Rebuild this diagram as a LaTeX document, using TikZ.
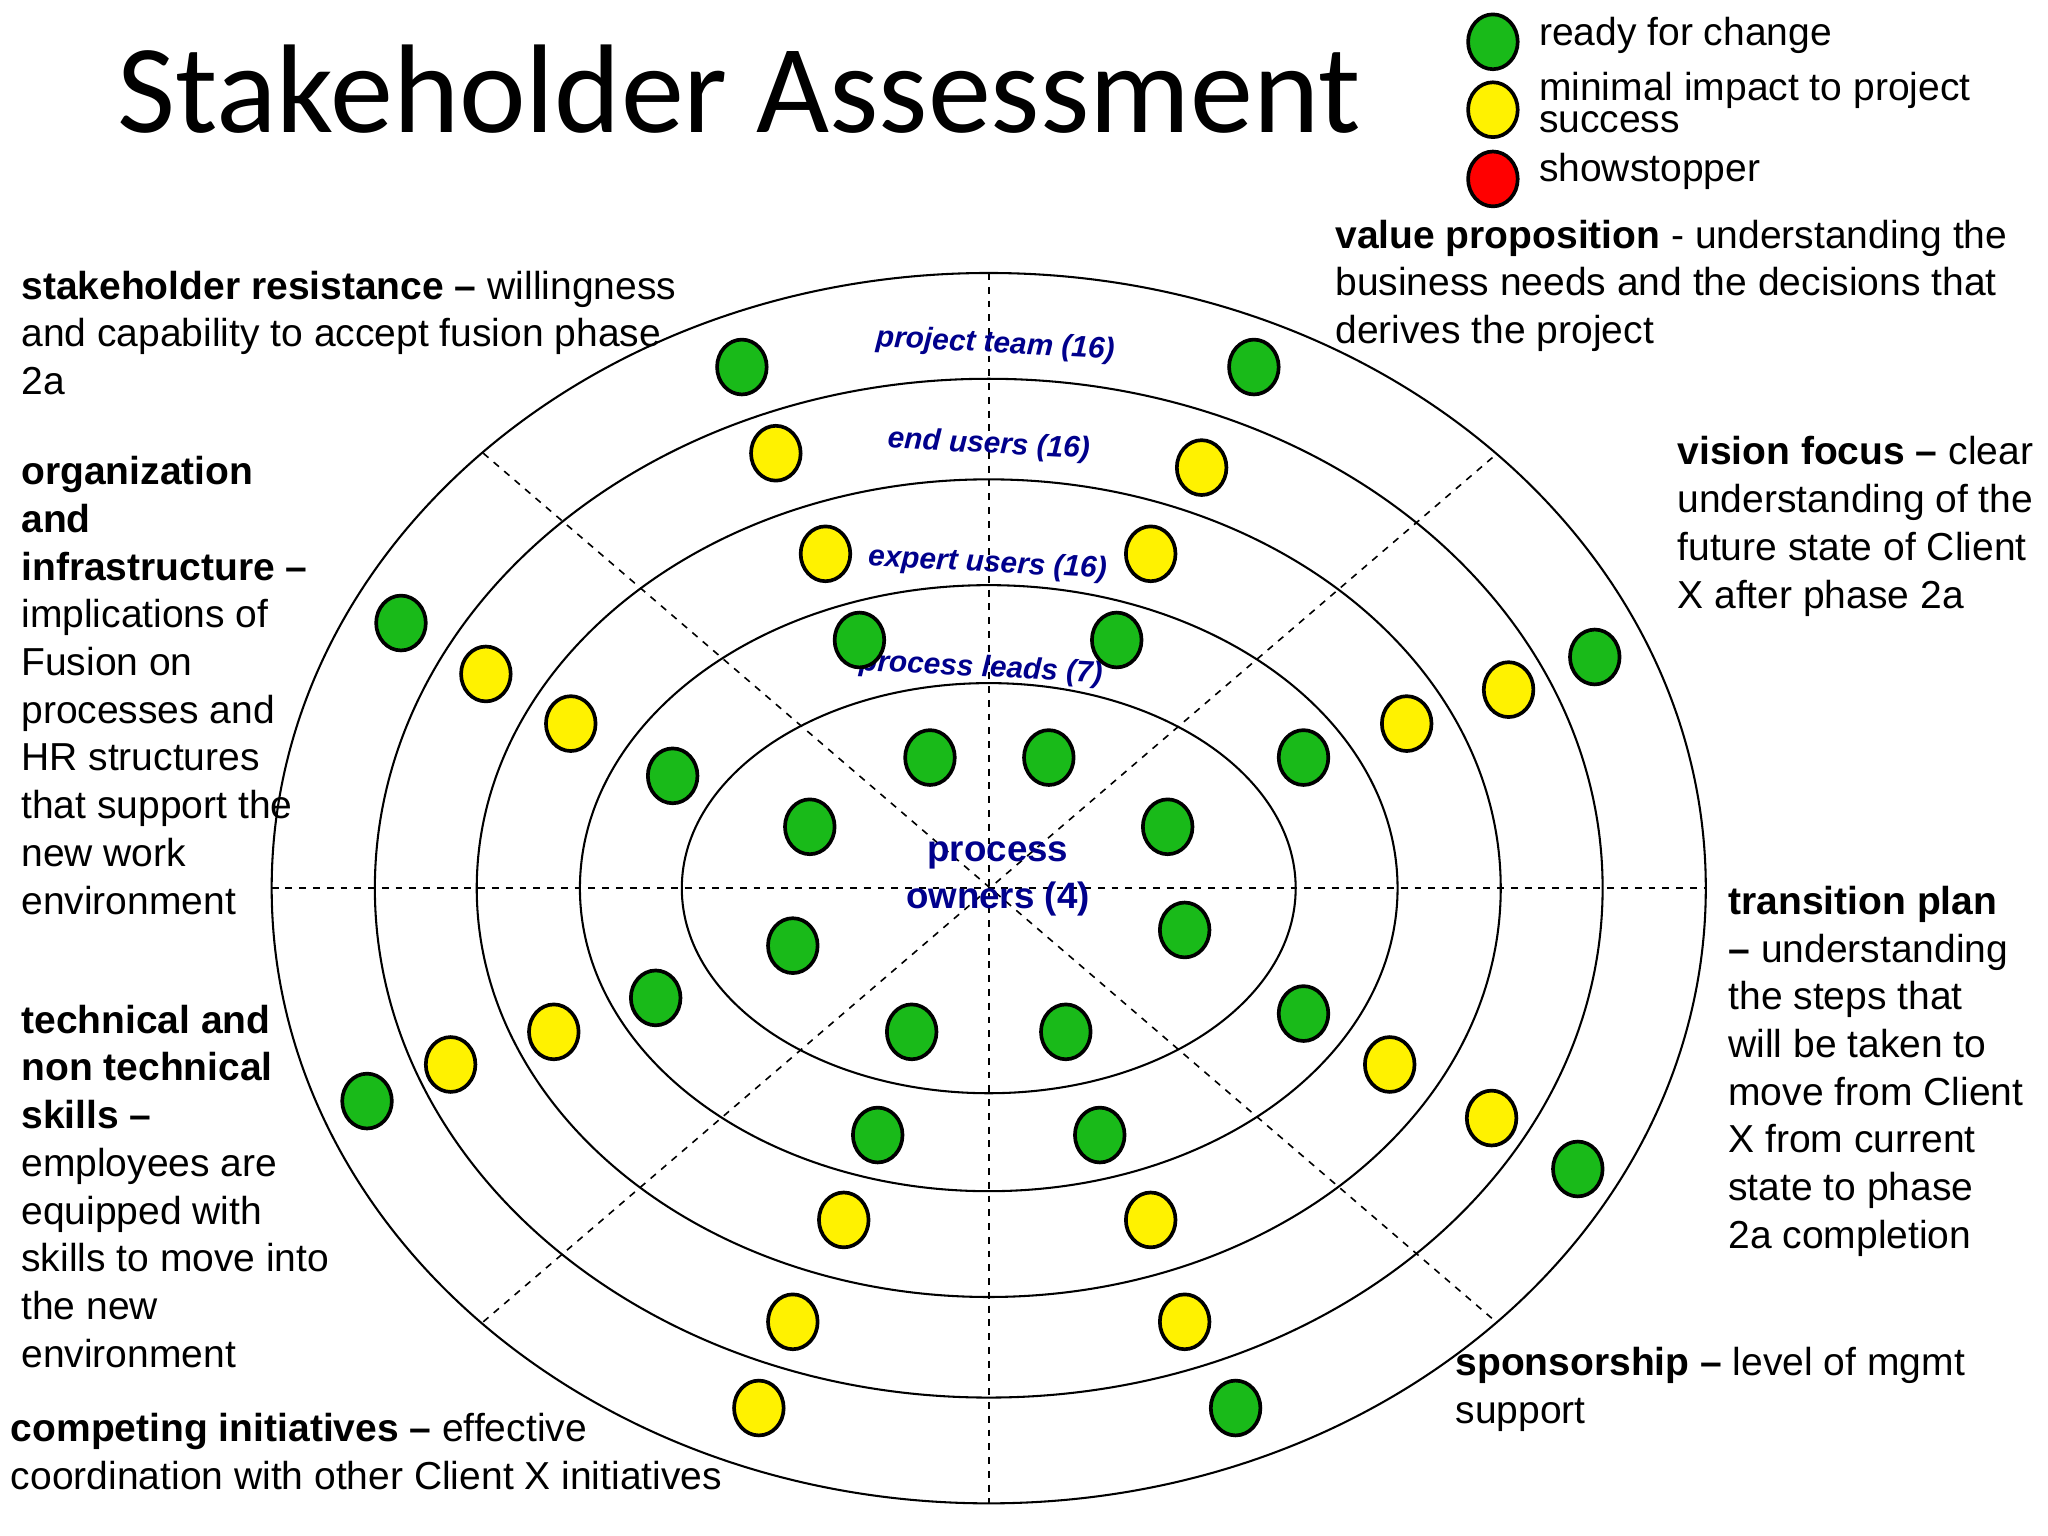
\documentclass[tikz,border=0pt]{standalone}
\usepackage{fontspec}
\usetikzlibrary{shapes.geometric}
\setmainfont{Liberation Sans}
\newfontfamily\titlefont{Carlito}
\begin{document}
\begin{tikzpicture}[x=0.02cm,y=-0.02cm,
  ring/.style={draw=black,line width=0.9pt},
  guide/.style={draw=black,dashed,line width=0.7pt},
  gdot/.style={draw=black,line width=1.6pt,fill=green!70!black!90,ellipse,minimum width=0.76cm,minimum height=0.84cm,inner sep=0},
  ydot/.style={gdot,fill=yellow},
  rdot/.style={gdot,fill=red},
  body/.style={anchor=north west,align=left,inner sep=0,font=\fontsize{17}{20.8}\selectfont},
  lab/.style={text=blue!55!black,font=\fontsize{13}{15}\selectfont\bfseries\itshape,inner sep=0}]
\useasboundingbox (0,0) rectangle (1568,1176);
\fill[white] (0,0) rectangle (1568,1176);
\node[inner sep=0,font=\titlefont\fontsize{55}{60}\selectfont] (title) at (566,68) {Stakeholder Assessment};
% rings
\coordinate (c) at (757,680);
\draw[ring] (c) ellipse [x radius=549,y radius=471];
\draw[ring] (c) ellipse [x radius=470,y radius=390];
\draw[ring] (c) ellipse [x radius=392,y radius=313];
\draw[ring] (c) ellipse [x radius=313,y radius=232];
\draw[ring] (c) ellipse [x radius=235,y radius=157];
\coordinate (hl) at (208,680); \coordinate (hr) at (1306,680);
\coordinate (vt) at (757,209); \coordinate (vb) at (757,1151);
\coordinate (d1) at (370,347); \coordinate (d2) at (1143,1010);
\coordinate (d3) at (370,1012); \coordinate (d4) at (1143,350);
\draw[guide] (hl) -- (hr);
\draw[guide] (vt) -- (vb);
\draw[guide] (d1) -- (d2);
\draw[guide] (d3) -- (d4);
% ring labels
\node[lab,rotate=-3] (l1) at (762,264) {project team (16)};
\node[lab,rotate=-3] (l2) at (757,341) {end users (16)};
\node[lab,rotate=-3] (l3) at (756,432) {expert users (16)};
\node[lab,rotate=-3] (l4) at (751,512) {process leads (7)};
\node[text=blue!55!black,font=\fontsize{16}{20.5}\selectfont\bfseries,align=center,inner sep=0] (l5) at (764,673) {process\\owners (4)};
% dots
\foreach \p [count=\i] in {(568,281),(960,281),(307,477),(1221,503),(515,594),(658,490),(855,490),(712,580),(803,580),(620,633),(894,633),(998,580),(607,724),(907,712),(502,764),(998,776),(698,790),(816,790),(281,843),(1208,895),(672,869),(842,869),(946,1078)}
  \node[gdot] (g\i) at \p {};
\foreach \p [count=\i] in {(594,347),(920,358),(632,424),(881,424),(372,516),(437,554),(1155,528),(1077,554),(424,790),(345,815),(1064,815),(1142,856),(646,934),(881,934),(607,1012),(907,1012),(581,1078)}
  \node[ydot] (y\i) at \p {};
% legend
\node[gdot] (lg) at (1143,32) {};
\node[ydot] (ly) at (1143,84) {};
\node[rdot] (lr) at (1143,137) {};
\node[body] (tg) at (1178,13) {ready for change};
\node[body,font=\fontsize{17}{14}\selectfont] (ty) at (1178,55) {minimal impact to project\\success};
\node[body] (tr) at (1178,117) {showstopper};
% text blocks
\node[body] (t1) at (16,207) {\textbf{stakeholder resistance –} willingness\\and capability to accept fusion phase\\2a};
\node[body] (t2) at (16,349) {\textbf{organization}\\\textbf{and}\\\textbf{infrastructure –}\\implications of\\Fusion on\\processes and\\HR structures\\that support the\\new work\\environment};
\node[body] (t3) at (16,769) {\textbf{technical and}\\\textbf{non technical}\\\textbf{skills –}\\employees are\\equipped with\\skills to move into\\the new\\environment};
\node[body] (t4) at (8,1082) {\textbf{competing initiatives –} effective\\coordination with other Client X initiatives};
\node[body] (t5) at (1022,168) {\textbf{value proposition} - understanding the\\business needs and the decisions that\\derives the project};
\node[body] (t6) at (1284,334) {\textbf{vision focus –} clear\\understanding of the\\future state of Client\\X after phase 2a};
\node[body] (t7) at (1323,678) {\textbf{transition plan}\\\textbf{–} understanding\\the steps that\\will be taken to\\move from Client\\X from current\\state to phase\\2a completion};
\node[body] (t8) at (1114,1031) {\textbf{sponsorship –} level of mgmt\\support};
\end{tikzpicture}
\end{document}
